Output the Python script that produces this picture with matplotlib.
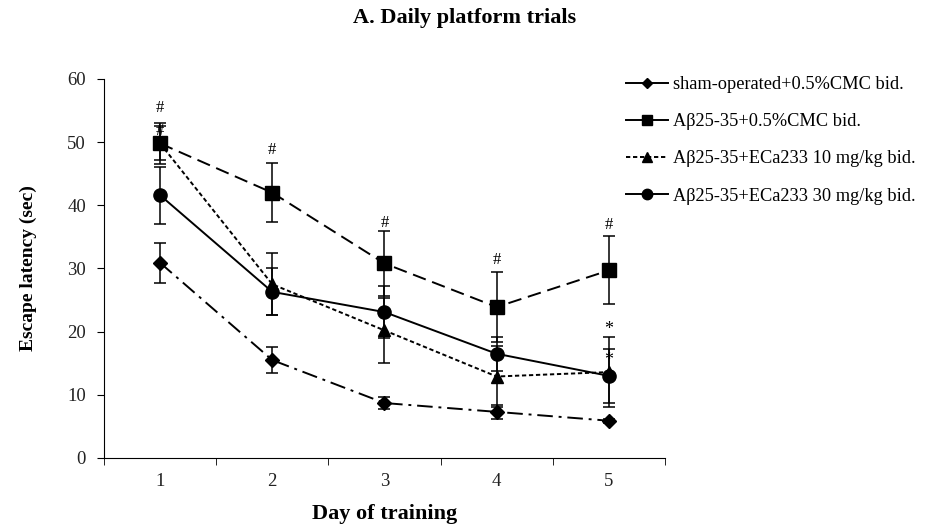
import matplotlib
matplotlib.use("Agg")
import matplotlib.pyplot as plt
from matplotlib.lines import Line2D

plt.rcParams["font.family"] = ["Liberation Serif", "DejaVu Serif"]

days = [1, 2, 3, 4, 5]
labels = [
    "sham-operated+0.5%CMC bid.",
    "Aβ25-35+0.5%CMC bid.",
    "Aβ25-35+ECa233 10 mg/kg bid.",
    "Aβ25-35+ECa233 30 mg/kg bid.",
]
sham = [30.9, 15.5, 8.7, 7.3, 5.9]
sham_err = [3.2, 2.0, 0.9, 1.1, 0.3]
ab_cmc = [49.8, 42.0, 30.8, 23.9, 29.7]
ab_cmc_err = [3.2, 4.7, 5.2, 5.6, 5.4]
eca10 = [49.8, 27.5, 20.2, 12.9, 13.6]
eca10_err = [2.7, 4.9, 5.2, 4.8, 5.5]
eca30 = [41.6, 26.3, 23.1, 16.5, 13.0]
eca30_err = [4.5, 3.7, 4.1, 2.7, 4.3]

# significance marks: (day, y)
hash_marks = [(1, 55.4), (1, 51.7), (2, 48.7), (3, 37.2), (4, 31.3), (5, 36.9)]
star_marks = [(5, 20.3), (5, 15.5)]

series = [
    (sham, sham_err, "D", 7, (0, (8, 3, 1.5, 3))),
    (ab_cmc, ab_cmc_err, "s", 9.5, (0, (7, 3.5))),
    (eca10, eca10_err, "^", 8.5, (0, (2.2, 1.4))),
    (eca30, eca30_err, "o", 9.5, "-"),
]

fig = plt.figure(figsize=(9.3, 5.28), dpi=100)
ax = fig.add_axes([0.1118, 0.1326, 0.6032, 0.7178])

for vals, err, mk, ms, ls in series:
    ax.errorbar(days, vals, yerr=err, color="black", marker=mk, ms=ms,
                linestyle=ls, lw=1.4, elinewidth=1.1, capsize=4, capthick=1.1)

for d, y in hash_marks:
    ax.text(d, y, "#", ha="center", va="center", fontsize=12)
for d, y in star_marks:
    ax.text(d, y, "*", ha="center", va="center", fontsize=13)

ax.set_xlim(0.5, 5.5)
ax.set_ylim(0, 60)
ax.set_yticks(range(0, 61, 10))
ax.set_xticks(days)
ax.set_xticks([0.5, 1.5, 2.5, 3.5, 4.5, 5.5], minor=True)
ax.tick_params(axis="x", which="major", length=0, pad=11, labelsize=13.5,
               labelcolor="#222222")
ax.tick_params(axis="x", which="minor", length=5, direction="out")
ax.tick_params(axis="y", length=5, direction="out", labelsize=13.5, pad=8,
               labelcolor="#222222")
for s in ("top", "right"):
    ax.spines[s].set_visible(False)

ax.set_xlabel("Day of training", fontsize=16, fontweight="bold", labelpad=10)
ax.set_ylabel("Escape latency (sec)", fontsize=14, fontweight="bold", labelpad=22)
fig.suptitle("A. Daily platform trials", fontsize=16, fontweight="bold", y=0.985)

handles = [
    Line2D([], [], color="black", marker="D", ms=5.5, lw=1.4),
    Line2D([], [], color="black", marker="s", ms=7.5, lw=1.4),
    Line2D([], [], color="black", marker="^", ms=7.5, lw=1.4, linestyle=(0, (2.2, 1.4))),
    Line2D([], [], color="black", marker="o", ms=7.5, lw=1.4),
]
fig.legend(handles, labels, loc="upper left", bbox_to_anchor=(0.655, 0.887),
           frameon=False, fontsize=13.2, handlelength=2.3, handletextpad=0.3,
           labelspacing=1.1)

fig.savefig("out.png", dpi=100)
